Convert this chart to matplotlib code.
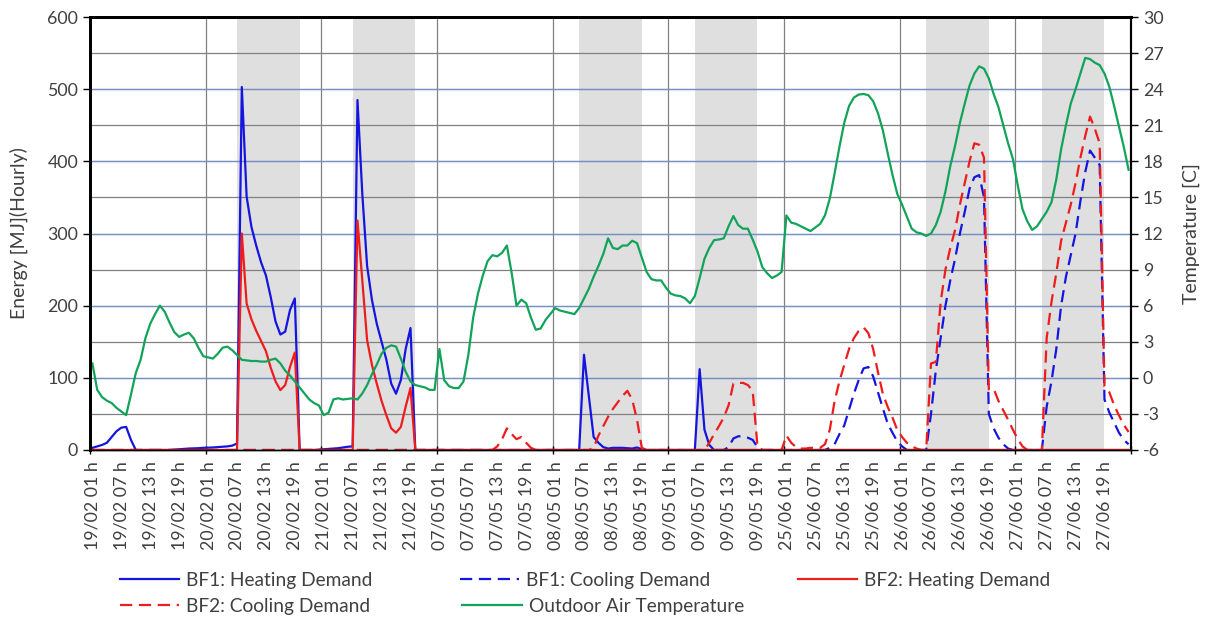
import numpy as np
from matplotlib import pyplot as plt

plt.rcParams['font.family'] = ['Lato', 'DejaVu Sans']
plt.rcParams['axes.unicode_minus'] = False

days = ['19/02', '20/02', '21/02', '07/05', '08/05', '09/05', '25/06', '26/06', '27/06']
label_hours = [1, 7, 13, 19]

# occupied hours (shaded): day index, first occupied hour index, number of hours
occ_days = [1, 2, 4, 5, 7, 8]
occ_first = [6, 6, 5, 5, 5, 5]
occ_len = 13

bf1_heat = ([3, 5, 7, 10, 18, 26, 31, 32, 14, 0, 0, 0, 0, 0, 0, 0, 0, 0.5, 1, 1.5, 2, 2.2, 2.5, 3]
            + [3.2, 3.5, 4, 4.5, 5, 6, 9, 503, 351, 309, 283, 260, 242, 212, 178, 160, 164, 194, 210, 0, 0, 0, 0, 0.5]
            + [1, 1.5, 2, 2.5, 3.5, 4.5, 5, 485, 355, 255, 208, 175, 150, 125, 92, 78, 97, 140, 169, 0, 0, 0, 0, 0]
            + [0] * 24
            + [0, 0, 0, 0, 0, 0, 132, 75, 18, 10, 4, 2, 3, 3, 3, 2.5, 2, 3.5, 1, 0, 0, 0, 0, 0]
            + [0, 0, 0, 0, 0, 0, 112, 28, 7] + [0] * 15
            + [0] * 72)

bf1_cool = ([0] * 120
            + [0] * 12 + [4, 16, 19, 19, 17, 14, 4] + [0] * 5
            + [0] * 9 + [3, 8, 22, 34, 56, 78, 97, 113, 115, 102, 80, 58, 37, 24, 12]
            + [5, 0, 0, 0, 0, 0, 50, 110, 155, 200, 235, 265, 300, 330, 362, 378, 381, 350, 50, 30, 17, 8, 2, 0]
            + [0, 0, 0, 0, 0, 0, 60, 95, 140, 200, 240, 270, 300, 345, 385, 415, 405, 395, 70, 52, 38, 24, 14, 8])

bf2_heat = ([0] * 24
            + [0] * 7 + [300, 203, 181, 165, 151, 137, 114, 95, 83, 90, 115, 135] + [0] * 5
            + [0] * 7 + [318, 235, 152, 118, 92, 68, 48, 30, 24, 32, 60, 86] + [0] * 5
            + [0] * 144)

bf2_cool = ([0] * 72
            + [0] * 12 + [5, 15, 30, 22, 15, 18, 10, 3] + [0] * 4
            + [0] * 8 + [3, 20, 33, 46, 57, 66, 75, 82, 70, 42, 3] + [0] * 5
            + [0] * 8 + [10, 22, 33, 45, 62, 92, 93, 93, 90, 82, 5] + [0] * 5
            + [20, 10, 4, 2, 2, 3, 3, 3, 8, 28, 68, 95, 118, 140, 155, 165, 170, 162, 140, 108, 78, 60, 45, 28]
            + [18, 10, 5, 2, 0, 0, 120, 122, 205, 250, 280, 305, 340, 370, 400, 425, 423, 405, 84, 85, 68, 55, 42, 28]
            + [15, 5, 0, 0, 0, 0, 155, 205, 245, 290, 315, 340, 370, 405, 435, 462, 445, 425, 88, 80, 62, 48, 35, 25])

temp = ([1.2, -1.0, -1.6, -1.9, -2.1, -2.5, -2.8, -3.1, -1.4, 0.4, 1.5, 3.3, 4.5, 5.3, 6.0, 5.5, 4.6, 3.8, 3.4, 3.6, 3.75, 3.3, 2.5, 1.8]
        + [1.7, 1.6, 2.0, 2.5, 2.6, 2.3, 1.9, 1.5, 1.45, 1.4, 1.4, 1.35, 1.35, 1.5, 1.6, 1.2, 0.6, 0.2, -0.3, -0.8, -1.3, -1.8, -2.1, -2.3]
        + [-3.1, -2.9, -1.8, -1.7, -1.8, -1.75, -1.7, -1.8, -1.3, -0.6, 0.3, 1.1, 2.0, 2.5, 2.7, 2.6, 1.6, 0.5, -0.3, -0.6, -0.7, -0.8, -1.0, -1.0]
        + [2.4, -0.2, -0.7, -0.85, -0.85, -0.3, 1.9, 5.0, 7.0, 8.5, 9.7, 10.2, 10.1, 10.4, 11.0, 8.7, 6.0, 6.5, 6.2, 5.0, 4.0, 4.1, 4.8, 5.3]
        + [5.8, 5.6, 5.5, 5.4, 5.3, 5.8, 6.6, 7.4, 8.4, 9.3, 10.3, 11.6, 10.8, 10.7, 11.0, 11.0, 11.4, 11.2, 10.0, 8.8, 8.2, 8.1, 8.1, 7.5]
        + [7.0, 6.85, 6.8, 6.6, 6.2, 6.8, 8.3, 9.9, 10.8, 11.45, 11.5, 11.6, 12.6, 13.45, 12.7, 12.4, 12.4, 11.5, 10.5, 9.2, 8.7, 8.3, 8.5, 8.8]
        + [13.5, 12.9, 12.8, 12.6, 12.4, 12.2, 12.5, 12.8, 13.5, 14.9, 17.0, 19.2, 21.2, 22.6, 23.3, 23.55, 23.6, 23.5, 23.0, 22.0, 20.6, 18.7, 16.9, 15.3]
        + [14.4, 13.4, 12.4, 12.1, 12.0, 11.8, 12.0, 12.7, 13.8, 15.5, 17.6, 19.3, 21.2, 22.8, 24.3, 25.3, 25.9, 25.7, 24.9, 23.6, 22.5, 21.0, 19.5, 18.2]
        + [16.0, 14.0, 13.0, 12.3, 12.6, 13.2, 13.8, 14.6, 16.5, 19.0, 21.0, 22.8, 24.0, 25.3, 26.6, 26.5, 26.2, 26.0, 25.3, 24.2, 22.6, 20.9, 19.2, 17.3])

n = len(days) * 24
x = np.arange(n)

fig = plt.figure(figsize=(12.1, 6.19), dpi=100)
ax = fig.add_axes([90 / 1210, 1 - 450 / 619, 1041 / 1210, 433 / 619])
ax2 = ax.twinx()

# shaded occupied periods
for d, h in zip(occ_days, occ_first):
    s = d * 24 + h
    ax.axvspan(s, s + occ_len, color='#dfdfdf', lw=0, zorder=0.1)

# grid
for v in range(50, 600, 50):
    ax.axhline(v, color='#808080', lw=0.9, zorder=0.3)
for v in range(100, 600, 100):
    ax.axhline(v, color='#7490c8', lw=0.9, zorder=0.35)
for d in range(1, len(days)):
    ax.axvline(d * 24 - 0.5, color='#808080', lw=0.9, zorder=0.3)

dash = (5.5, 3)
l1, = ax.plot(x, bf1_heat, color='#1515e0', lw=1.6, label='BF1: Heating Demand', zorder=2)
l2, = ax.plot(x, bf1_cool, color='#1515e0', lw=1.6, dashes=dash, label='BF1: Cooling Demand', zorder=2)
l3, = ax.plot(x, bf2_heat, color='#ee1c1c', lw=1.6, label='BF2: Heating Demand', zorder=2)
l4, = ax.plot(x, bf2_cool, color='#ee1c1c', lw=1.6, dashes=dash, label='BF2: Cooling Demand', zorder=2)
l5, = ax2.plot(x, temp, color='#12a35a', lw=1.6, label='Outdoor Air Temperature')

ax.set_xlim(-0.5, n - 0.5)
ax.set_ylim(0, 600)
ax2.set_ylim(-6, 30)
ax.set_yticks(range(0, 601, 100))
ax2.set_yticks(range(-6, 31, 3))

ax.set_xticks([d * 24 - 0.5 for d in range(len(days) + 1)])
ax.set_xticklabels([])
pos = []
labs = []
for i, dname in enumerate(days):
    for h in label_hours:
        pos.append(i * 24 + h - 1)
        labs.append('%s %02d h' % (dname, h))
ax.set_xticks(pos, minor=True)
ax.set_xticklabels(labs, minor=True, rotation=90, fontsize=12.8, color='#404040')
ax.tick_params(axis='x', which='minor', length=0, pad=8)
ax.tick_params(axis='x', which='major', length=6, direction='inout', width=1)
ax.tick_params(axis='y', labelsize=12.8, labelcolor='#404040', length=5, width=1)
ax2.tick_params(axis='y', labelsize=12.8, labelcolor='#404040', length=5, width=1)

ax.set_ylabel('Energy [MJ](Hourly)', fontsize=14, color='#404040', labelpad=14)
ax2.set_ylabel('Temperature [C]', fontsize=14, color='#404040', labelpad=14)

for a in (ax, ax2):
    a.spines['left'].set_linewidth(2)
    a.spines['top'].set_linewidth(2)
    a.spines['right'].set_linewidth(1.5)
    a.spines['bottom'].set_linewidth(1)

leg_kw = dict(loc='upper left', frameon=False, fontsize=13.8, handlelength=3.1,
              handletextpad=0.36, borderpad=0, borderaxespad=0, labelcolor='#404040')
row1 = [l1, l2, l3]
row2 = [l4, l5]
fig.legend(row1, [l.get_label() for l in row1], ncol=3, columnspacing=4.55,
           bbox_to_anchor=(120 / 1210, 1 - 572 / 619), **leg_kw)
fig.legend(row2, [l.get_label() for l in row2], ncol=2, columnspacing=4.8,
           bbox_to_anchor=(120 / 1210, 1 - 598 / 619), **leg_kw)

fig.savefig('out.png', dpi=100)
